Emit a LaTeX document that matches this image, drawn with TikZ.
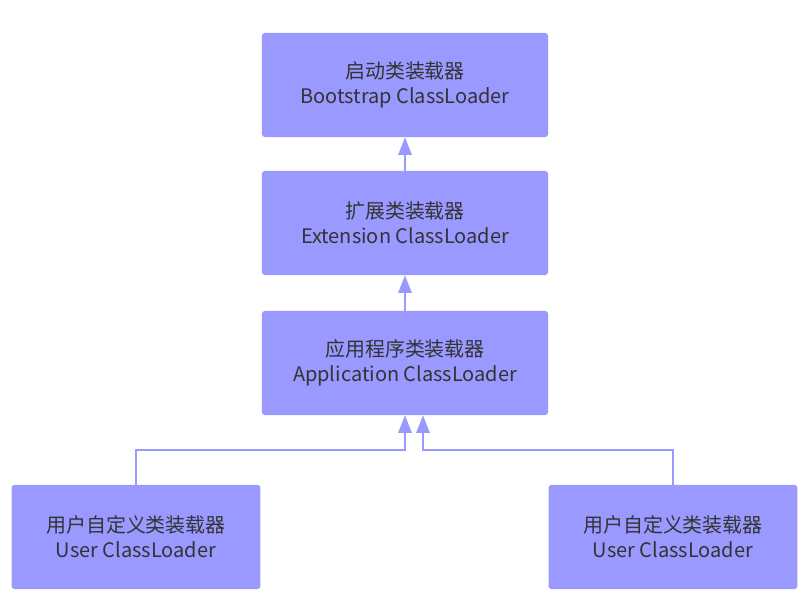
\documentclass[tikz,border=0pt]{standalone}
\usepackage{fontspec}
\setmainfont{Noto Sans CJK SC}
\usepackage{tikz}
\usetikzlibrary{arrows.meta,positioning,calc}
\definecolor{boxfill}{HTML}{9999FF}
\definecolor{boxtext}{HTML}{333333}

\begin{document}
\begin{tikzpicture}[x=0.025cm,y=0.025cm,font=\fontsize{14.2}{18}\selectfont]
\useasboundingbox (0,0) rectangle (812,600);
% loaders
\begin{scope}[
  b/.style={fill=boxfill,draw=none,rounded corners=2pt,minimum height=2.6cm,text=boxtext,align=center},
  w/.style={b,minimum width=7.15cm},
  u/.style={b,minimum width=6.22cm}]
  \node[w] (boot) at (405,515) {启动类装载器\\Bootstrap ClassLoader};
  \node[w] (ext) at (405,377) {扩展类装载器\\Extension ClassLoader};
  \node[w] (app) at (405,237) {应用程序类装载器\\Application ClassLoader};
  \node[u] (ul) at (136,63) {用户自定义类装载器\\User ClassLoader};
  \node[u] (ur) at (673,63) {用户自定义类装载器\\User ClassLoader};
\end{scope}
% parent links
\begin{scope}[a/.style={-{Triangle[length=4.4mm,width=3.3mm]},boxfill,line width=1.6pt}]
  \draw[a] (ext) -- (boot);
  \draw[a] (app) -- (ext);
  \coordinate (jl) at ($(app.south)+(0,-35)$);
  \draw[a] (ul.north) |- (jl) -- (app.south);
  \draw[a] (ur.north) |- ($(jl)+(18,0)$) -- ($(app.south)+(18,0)$);
\end{scope}
\end{tikzpicture}
\end{document}
